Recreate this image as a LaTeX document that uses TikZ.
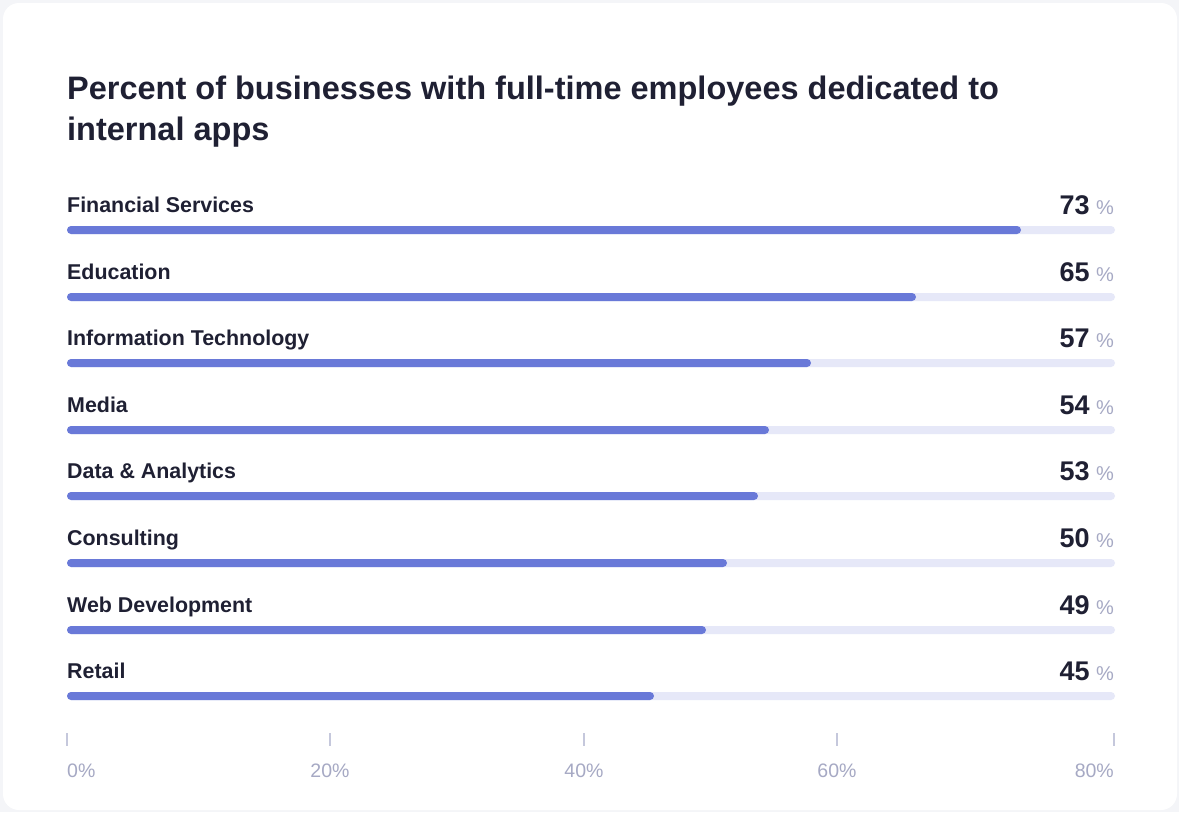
\documentclass[tikz,border=0pt]{standalone}
\usepackage{fontspec}
\setmainfont{Liberation Sans}
\definecolor{bgc}{HTML}{F4F5F8}
\definecolor{barc}{HTML}{6979D8}
\definecolor{trackc}{HTML}{E6E8F8}
\definecolor{txtc}{HTML}{1F2033}
\definecolor{pctc}{HTML}{A6A9C4}
\definecolor{tickc}{HTML}{C5C8DC}
\tikzset{
  titletext/.style={anchor=base west, inner sep=0pt, font=\fontsize{32.5}{42}\selectfont\bfseries, text=txtc, align=left},
  cattext/.style={anchor=base west, inner sep=0pt, font=\fontsize{21.4}{24}\selectfont\bfseries, text=txtc},
  numtext/.style={anchor=base east, inner sep=0pt, font=\fontsize{27}{30}\selectfont\bfseries, text=txtc},
  pcttext/.style={anchor=base east, inner sep=0pt, font=\fontsize{20}{22}\selectfont, text=pctc},
  axistext/.style={inner sep=0pt, font=\fontsize{19.5}{22}\selectfont, text=pctc},
  track/.style={fill=trackc, rounded corners=4pt},
  bar/.style={fill=barc, rounded corners=4pt},
  tick/.style={draw=tickc, line width=2.2pt},
}
\begin{document}
\begin{tikzpicture}[x=1pt,y=-1pt]
\fill[bgc] (0,0) rectangle (1179,812);
\useasboundingbox (0,0) rectangle (1179,812);
\fill[white, rounded corners=16pt] (3,3) rectangle (1177,810);
\node[titletext] (title1) at (67,99) {Percent of businesses with full-time employees dedicated to};
\node[titletext] (title2) at (67,140) {internal apps};
\foreach \name/\val/\y/\e [count=\i] in {Financial Services/73/230/1021, Education/65/297/916, Information Technology/57/363/811, Media/54/430/769, Data \& Analytics/53/496/758, Consulting/50/563/727, Web Development/49/630/706, Retail/45/696/654}{
  \node[cattext] (cat\i) at (67,\y-18) {\name};
  \node[pcttext] (pct\i) at (1114,\y-16) {\%};
  \node[numtext] (num\i) at ([xshift=-6pt]pct\i.base west) {\val};
  \fill[track] (67,\y-4) rectangle (1115,\y+4);
  \fill[bar] (67,\y-4) rectangle (\e,\y+4);
}
\foreach \x in {67, 330, 584, 837, 1114}{
  \draw[tick] (\x,733) -- (\x,746);
}
\node[axistext, anchor=base west] (ax0) at (67,777) {0\%};
\node[axistext, anchor=base] (ax20) at (330,777) {20\%};
\node[axistext, anchor=base] (ax40) at (584,777) {40\%};
\node[axistext, anchor=base] (ax60) at (837,777) {60\%};
\node[axistext, anchor=base east] (ax80) at (1114,777) {80\%};
\end{tikzpicture}
\end{document}
